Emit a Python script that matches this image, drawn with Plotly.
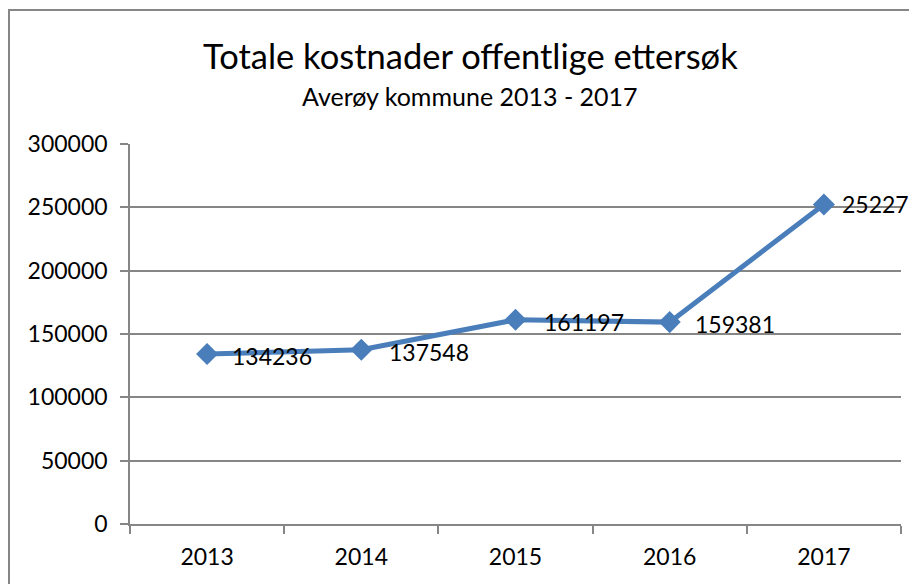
import plotly.graph_objects as go

years = ["2013", "2014", "2015", "2016", "2017"]
costs = [134236, 137548, 161197, 159381, 252272]
y_ticks = [0, 50000, 100000, 150000, 200000, 250000, 300000]

title_text = "Totale kostnader offentlige ettersøk"
subtitle_text = "Averøy kommune 2013 - 2017"

FONT = "Lato"
GRAY = "#868686"
BLUE = "#4A7EBB"

# page body has an 8px margin, so the figure is drawn 8px smaller and offset
W, H = 909, 576
L, R, T, B = 122, 16, 136, 60
pw, ph = W - L - R, H - T - B

label_xshift = [23, 26, 26, 23, 16]
label_yshift = [-2, -2, -2, -2, 0]

fig = go.Figure()
fig.add_trace(go.Scatter(
    x=years, y=costs,
    mode="lines+markers",
    line=dict(color=BLUE, width=5),
    marker=dict(symbol="diamond", size=17, color=BLUE),
    cliponaxis=False,
    showlegend=False,
))

# data labels (category positions referenced by index)
label_annotations = [
    dict(text=str(v), x=i, y=v, xref="x", yref="y",
         xanchor="left", yanchor="middle",
         xshift=label_xshift[i], yshift=label_yshift[i],
         showarrow=False, font=dict(family=FONT, size=23, color="black"))
    for i, v in enumerate(costs)
]

fig.update_layout(
    width=W, height=H,
    margin=dict(l=L, r=R, t=T, b=B),
    paper_bgcolor="white", plot_bgcolor="white",
    font=dict(family=FONT, size=23, color="black"),
    xaxis=dict(
        type="category", tickson="boundaries",
        ticks="outside", ticklen=8, tickcolor=GRAY, tickwidth=1.5,
        showline=True, linecolor=GRAY, linewidth=1.5,
        showgrid=False, tickfont=dict(family=FONT, size=23),
        range=[-0.5, 4.5], ticklabelstandoff=12,
    ),
    yaxis=dict(
        range=[0, 300000], tickvals=y_ticks, ticktext=[str(v) for v in y_ticks],
        ticks="outside", ticklen=8, tickcolor=GRAY, tickwidth=1.5,
        showline=True, linecolor=GRAY, linewidth=1.5,
        showgrid=True, gridcolor=GRAY, gridwidth=1.5,
        zeroline=False, tickfont=dict(family=FONT, size=23),
        ticklabelstandoff=8,
    ),
    annotations=[
        dict(text=title_text, xref="paper", yref="paper",
             x=(462 - L) / pw, y=(H - B - 47) / ph, xanchor="center", yanchor="middle",
             showarrow=False, font=dict(family=FONT, size=34.5, color="black")),
        dict(text=subtitle_text, xref="paper", yref="paper",
             x=(462 - L) / pw, y=(H - B - 88) / ph, xanchor="center", yanchor="middle",
             showarrow=False, font=dict(family=FONT, size=25, color="black")),
    ] + label_annotations,
    shapes=[
        dict(type="rect", xref="paper", yref="paper",
             x0=(1 - L) / pw, x1=(920 - L) / pw,
             y0=(H - B - 600) / ph, y1=(H - B - 2) / ph,
             line=dict(color=GRAY, width=2), fillcolor="rgba(0,0,0,0)", layer="below"),
    ],
)

fig.write_html("out.html")
